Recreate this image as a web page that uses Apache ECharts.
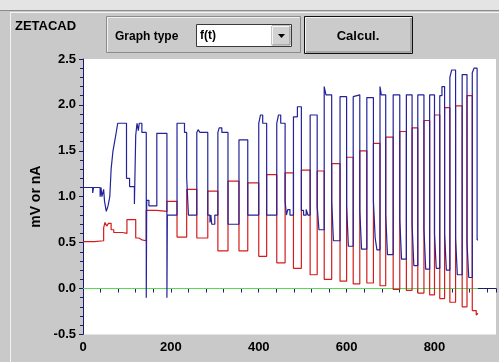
<!DOCTYPE html>
<html>
<head>
<meta charset="utf-8">
<script src="https://cdn.jsdelivr.net/npm/echarts@6/dist/echarts.min.js"></script>
<style>
html, body { margin: 0; padding: 0; background: #c9c9c9; }
#main { width: 499px; height: 362px; }
</style>
</head>
<body>
<div id="main"></div>
<script>
// tick labels shown on the axes
var xLabels = [0, 200, 400, 600, 800];
var yLabels = [-0.5, 0.0, 0.5, 1.0, 1.5, 2.0, 2.5];

// red trace: [t, value] from t onwards (step)
var redSteps = [
    [0, 0.51], [26, 0.52], [47, 0.66], [50, 0.72], [54, 0.68], [58, 0.71], [64, 0.64],
    [70, 0.61], [90, 0.6], [100, 0.75], [120, 0.55], [127, 0.53], [134, 0.52],
    [144, 0.85], [168, 0.84], [191, 0.95], [214, 0.56], [236, 1.08], [259, 0.55],
    [284, 1.06], [307, 0.41], [330, 1.17], [355, 0.41], [375, 1.15], [400, 0.35],
    [418, 1.24], [441, 0.28], [460, 1.26], [479, 0.22], [497, 1.29], [517, 0.15],
    [533, 1.28], [549, 0.1], [566, 1.36], [585, 0.08], [600, 1.43], [615, 0.05],
    [630, 1.5], [646, 0.06], [661, 1.58], [676, 0.03], [689, 1.65], [706, -0.01],
    [721, 1.71], [736, -0.02], [749, 1.75], [762, -0.05], [776, 1.83], [789, -0.07],
    [800, 1.89], [812, -0.11], [823, 1.97], [835, -0.15], [848, 1.99], [863, -0.2],
    [874, 2.1], [886, -0.24], [895, -0.29], [899, -0.27]
];

// blue trace: [t, value] from t onwards (step)
var blueSteps = [
    [0, 1.1], [22, 1.04], [24, 1.1], [39, 1.0], [41, 1.1], [43, 1.0], [47, 1.08],
    [49, 0.95], [53, 0.84], [57, 0.9], [61, 1.0], [64, 1.3], [68, 1.49], [72, 1.6],
    [76, 1.71], [79, 1.8], [99, 1.2], [106, 1.11], [117, 0.92], [120, 1.67],
    [123, 1.8], [126, 1.72], [128, 1.8], [134, 1.7], [144, -0.1], [145, 0.96],
    [150, 0.9], [168, 1.69], [191, -0.1], [192, 0.8], [214, 1.8], [231, 1.7],
    [236, 1.2], [240, 0.8], [259, 1.7], [262, 1.73], [266, 1.7], [284, 0.8],
    [289, 0.72], [291, 0.8], [293, 0.7], [300, 0.8], [307, 1.7], [310, 1.75],
    [316, 1.7], [330, 0.7], [355, 1.62], [375, 0.8], [400, 1.8], [404, 1.89],
    [409, 1.8], [418, 0.8], [441, 1.8], [445, 1.89], [450, 1.8], [460, 0.95],
    [463, 0.8], [466, 0.86], [471, 0.8], [479, 1.87], [488, 1.98], [497, 0.85],
    [502, 0.8], [508, 0.86], [512, 0.8], [517, 1.89], [533, 0.9], [537, 0.64],
    [549, 2.2], [553, 2.11], [566, 0.95], [570, 0.52], [585, 2.09], [600, 0.9],
    [604, 0.46], [615, 2.09], [619, 2.11], [630, 0.85], [634, 0.43], [646, 2.08],
    [661, 0.95], [665, 0.55], [669, 0.42], [676, 2.2], [679, 2.11], [689, 0.8],
    [693, 0.37], [706, 2.11], [721, 0.75], [725, 0.32], [736, 2.11], [749, 0.7],
    [753, 0.25], [762, 2.11], [776, 0.65], [780, 0.21], [789, 2.11], [800, 0.6],
    [804, 0.22], [812, 2.1], [817, 2.2], [823, 0.6], [827, 0.2], [835, 2.3],
    [839, 2.38], [848, 0.55], [852, 0.15], [863, 2.33], [874, 0.5], [878, 0.12],
    [886, 2.35], [890, 2.4], [897, 0.53], [899, 0.53]
];

// green zero reference
var zeroLine = [[0, 0], [899, 0]];

var FONT = '"Liberation Sans", Arial, sans-serif';
var chart = echarts.init(document.getElementById('main'));

var option = {
    animation: false,
    backgroundColor: '#c9c9c9',
    grid: {
        left: 83, right: 2, top: 59, bottom: 27.6,
        show: true, backgroundColor: '#ffffff', borderWidth: 0
    },
    xAxis: {
        type: 'value',
        min: 0, max: 940, interval: 40,
        axisLine: { show: true, lineStyle: { color: '#1c1c6c', width: 1 } },
        axisTick: { show: true, inside: false, length: 4, lineStyle: { color: '#1c1c6c' } },
        splitLine: { show: false },
        axisLabel: {
            margin: 7,
            color: '#000', fontFamily: FONT, fontWeight: 'bold', fontSize: 13,
            formatter: function (v) { return xLabels.indexOf(v) >= 0 ? String(v) : ''; }
        }
    },
    yAxis: {
        type: 'value',
        min: -0.5, max: 2.5, interval: 0.5,
        name: 'mV or nA',
        nameLocation: 'middle',
        nameRotate: 90,
        nameGap: 36,
        nameTextStyle: { color: '#000', fontFamily: FONT, fontWeight: 'bold', fontSize: 14 },
        axisLine: { show: true, lineStyle: { color: '#1c1c6c', width: 1 } },
        axisTick: { show: true, inside: false, length: 4, lineStyle: { color: '#1c1c6c' } },
        minorTick: { show: true, splitNumber: 5, length: 3, lineStyle: { color: '#1c1c6c' } },
        splitLine: { show: false },
        axisLabel: {
            margin: 7,
            color: '#000', fontFamily: FONT, fontWeight: 'bold', fontSize: 13,
            formatter: function (v) {
                for (var i = 0; i < yLabels.length; i++) {
                    if (Math.abs(yLabels[i] - v) < 1e-6) return yLabels[i].toFixed(1);
                }
                return '';
            }
        }
    },
    series: [
        {
            type: 'line', data: zeroLine, symbol: 'none',
            lineStyle: { color: '#5ad85a', width: 1 }, z: 2
        },
        {
            type: 'line', data: redSteps, step: 'end', symbol: 'none',
            lineStyle: { color: '#d41c1c', width: 1.2 }, z: 3
        },
        {
            type: 'line', data: blueSteps, step: 'end', symbol: 'none',
            lineStyle: { color: '#22229a', width: 1.2 }, z: 4
        }
    ],
    graphic: [
        // window top strip and panel edges
        { type: 'rect', shape: { x: 0, y: 0, width: 499, height: 10 }, style: { fill: '#e4e4e4' } },
        { type: 'line', shape: { x1: 0, y1: 10.5, x2: 499, y2: 10.5 }, style: { stroke: '#8c8c8c', lineWidth: 1 } },
        { type: 'line', shape: { x1: 10, y1: 12.5, x2: 499, y2: 12.5 }, style: { stroke: '#f4f4f4', lineWidth: 1 } },
        { type: 'line', shape: { x1: 10.5, y1: 12, x2: 10.5, y2: 362 }, style: { stroke: '#f4f4f4', lineWidth: 1 } },
        { type: 'text', left: 15, top: 20, style: { text: 'ZETACAD', fill: '#000', font: 'bold 13px ' + FONT } },

        // "Graph type" group box
        { type: 'rect', shape: { x: 106.5, y: 16.5, width: 194, height: 36 }, style: { fill: '#cbcbcb', stroke: '#8a8a8a', lineWidth: 1 } },
        { type: 'polyline', shape: { points: [[107.5, 51.5], [107.5, 17.5], [299.5, 17.5]] }, style: { stroke: '#f2f2f2', fill: null, lineWidth: 1 } },
        { type: 'text', left: 115, top: 31, style: { text: 'Graph type', fill: '#000', font: 'bold 12px ' + FONT } },

        // combo box
        { type: 'rect', shape: { x: 196.5, y: 24.5, width: 95, height: 22 }, style: { fill: '#ffffff', stroke: '#3a3a3a', lineWidth: 1 } },
        { type: 'text', left: 200, top: 30, style: { text: 'f(t)', fill: '#000', font: 'bold 12px ' + FONT } },
        { type: 'rect', shape: { x: 272, y: 26, width: 18, height: 19 }, style: { fill: '#d2d2d2', stroke: '#8a8a8a', lineWidth: 1 } },
        { type: 'polyline', shape: { points: [[272.5, 44.5], [272.5, 26.5], [289.5, 26.5]] }, style: { stroke: '#f6f6f6', fill: null, lineWidth: 1 } },
        { type: 'polygon', shape: { points: [[278, 34], [285, 34], [281.5, 38]] }, style: { fill: '#000' } },

        // Calcul. button
        { type: 'rect', shape: { x: 304.5, y: 16.5, width: 108, height: 37 }, style: { fill: '#cbcbcb', stroke: '#111', lineWidth: 1 } },
        { type: 'polyline', shape: { points: [[305.5, 52.5], [305.5, 17.5], [411.5, 17.5]] }, style: { stroke: '#f4f4f4', fill: null, lineWidth: 1 } },
        { type: 'polyline', shape: { points: [[306, 52], [411, 52], [411, 18]] }, style: { stroke: '#808080', fill: null, lineWidth: 1 } },
        { type: 'text', x: 358, y: 36, style: { text: 'Calcul.', fill: '#000', font: 'bold 13px ' + FONT, align: 'center', verticalAlign: 'middle' } }
    ]
};

chart.setOption(option);
</script>
</body>
</html>
